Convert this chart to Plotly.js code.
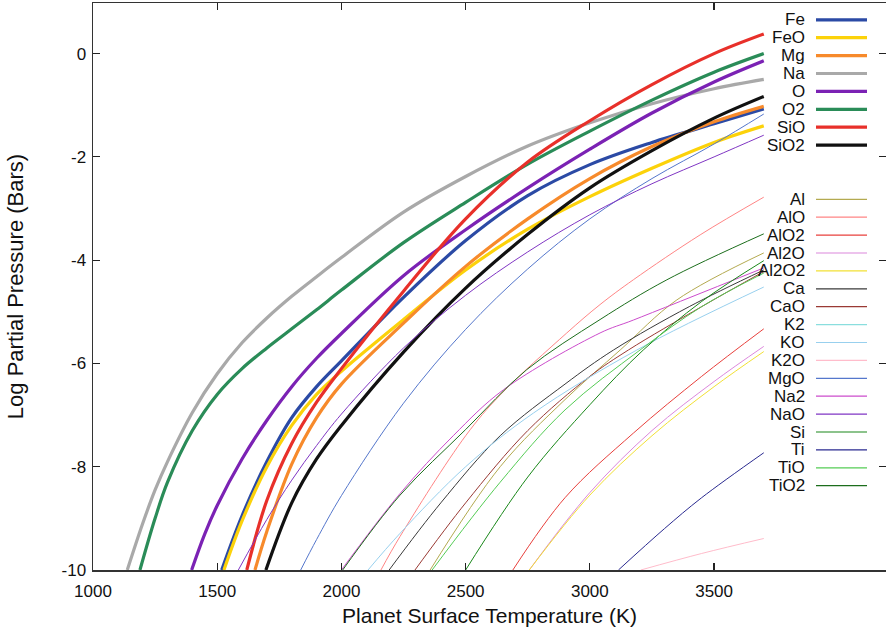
<!DOCTYPE html>
<html>
<head>
<meta charset="utf-8">
<script src="https://cdn.plot.ly/plotly-3.0.1.min.js"></script>
<style>html,body{margin:0;padding:0;background:#fff;}#chart{width:886px;height:630px;}</style>
</head>
<body>
<div id="chart"></div>
<script>
// ---- Data (Temperature in K, log10 partial pressure in bars) ----
const xTicks = [1000, 1500, 2000, 2500, 3000, 3500];
const yTicks = [0, -2, -4, -6, -8, -10];
const yTickText = ['0', '-2', '-4', '-6', '-8', '-10'];

// major species
const T_Fe   = [1518, 1600, 1700, 1800, 1900, 2000, 2250, 2500, 2750, 3000, 3250, 3500, 3700];
const P_Fe   = [-10, -8.95, -7.9, -7.05, -6.45, -5.95, -4.72, -3.62, -2.75, -2.15, -1.72, -1.36, -1.07];
const T_FeO  = [1527, 1600, 1700, 1800, 1900, 2000, 2250, 2500, 2750, 3000, 3250, 3500, 3700];
const P_FeO  = [-10, -9.05, -8.0, -7.2, -6.6, -6.15, -5.15, -4.19, -3.4, -2.77, -2.22, -1.72, -1.40];
const T_Mg   = [1652, 1700, 1800, 1900, 2000, 2250, 2500, 2750, 3000, 3250, 3500, 3700];
const P_Mg   = [-10, -9.25, -7.95, -7.05, -6.4, -5.22, -4.12, -3.2, -2.42, -1.8, -1.32, -1.02];
const T_Na   = [1138, 1200, 1250, 1300, 1400, 1500, 1600, 1700, 1800, 1900, 2000, 2250, 2500, 2750, 3000, 3250, 3500, 3700];
const P_Na   = [-10, -9.1, -8.45, -7.9, -6.95, -6.2, -5.6, -5.12, -4.7, -4.32, -3.95, -3.07, -2.38, -1.79, -1.34, -0.97, -0.68, -0.50];
const T_O    = [1397, 1450, 1500, 1600, 1700, 1800, 1900, 2000, 2250, 2500, 2750, 3000, 3250, 3500, 3700];
const P_O    = [-10, -9.3, -8.75, -7.85, -7.1, -6.45, -5.9, -5.42, -4.3, -3.41, -2.6, -1.85, -1.15, -0.55, -0.14];
const T_O2   = [1189, 1250, 1300, 1400, 1500, 1600, 1700, 1800, 1900, 2000, 2250, 2500, 2750, 3000, 3250, 3500, 3700];
const P_O2   = [-10, -9.0, -8.3, -7.3, -6.6, -6.1, -5.7, -5.33, -4.96, -4.58, -3.66, -2.88, -2.14, -1.50, -0.90, -0.36, 0.0];
const T_SiO  = [1619, 1700, 1800, 1900, 2000, 2250, 2500, 2750, 3000, 3250, 3500, 3700];
const P_SiO  = [-10, -8.65, -7.55, -6.75, -6.1, -4.6, -3.2, -2.1, -1.3, -0.6, 0.0, 0.38];
const T_SiO2 = [1696, 1800, 1900, 2000, 2250, 2500, 2750, 3000, 3250, 3500, 3700];
const P_SiO2 = [-10, -8.7, -7.85, -7.2, -5.78, -4.54, -3.5, -2.6, -1.88, -1.25, -0.83];

// minor species
const T_Al    = [2357, 2639, 2900, 3122, 3350, 3700];
const P_Al    = [-10, -8.0, -6.7, -5.74, -4.77, -3.86];
const T_AlO   = [2159, 2236, 2500, 2639, 2907, 3041, 3175, 3444, 3700];
const P_AlO   = [-10, -9.35, -7.4, -6.61, -5.41, -4.86, -4.38, -3.51, -2.78];
const T_AlO2  = [2690, 2900, 3175, 3450, 3700];
const P_AlO2  = [-10, -8.6, -7.35, -6.25, -5.33];
const T_Al2O  = [2756, 3000, 3250, 3500, 3700];
const P_Al2O  = [-10, -8.5, -7.3, -6.35, -5.67];
const T_Al2O2 = [2756, 3000, 3250, 3500, 3700];
const P_Al2O2 = [-10, -8.55, -7.4, -6.45, -5.77];
const T_Ca    = [2192, 2400, 2639, 2900, 3095, 3400, 3700];
const P_Ca    = [-10, -8.7, -7.4, -6.4, -5.74, -4.9, -4.19];
const T_CaO   = [2296, 2500, 2750, 3000, 3155, 3450, 3700];
const P_CaO   = [-10, -8.7, -7.3, -6.25, -5.74, -4.9, -4.22];
const T_K2    = [];
const P_K2    = [];
const T_KO    = [2107, 2236, 2500, 2773, 3189, 3700];
const P_KO    = [-10, -9.29, -8.0, -6.96, -5.74, -4.52];
const T_K2O   = [3205, 3450, 3700];
const P_K2O   = [-10, -9.68, -9.39];
const T_MgO   = [1836, 1900, 2000, 2250, 2500, 2750, 3000, 3250, 3500, 3700];
const P_MgO   = [-10, -9.41, -8.56, -6.77, -5.34, -4.17, -3.2, -2.42, -1.75, -1.17];
const T_Na2   = [2000, 2236, 2450, 2652, 3041, 3175, 3700];
const P_Na2   = [-10, -8.52, -7.4, -6.51, -5.41, -5.16, -4.15];
const T_NaO   = [1585, 1700, 1800, 1900, 2000, 2250, 2500, 2750, 3000, 3250, 3500, 3700];
const P_NaO   = [-10, -9.02, -8.26, -7.59, -6.98, -5.70, -4.68, -3.84, -3.12, -2.52, -2.0, -1.58];
const T_Si    = [2500, 2750, 3000, 3215, 3450, 3700];
const P_Si    = [-10, -8.2, -6.8, -5.74, -4.8, -4.01];
const T_Ti    = [3115, 3300, 3450, 3700];
const P_Ti    = [-10, -9.2, -8.6, -7.73];
const T_TiO   = [2365, 2639, 2900, 3202, 3450, 3700];
const P_TiO   = [-10, -8.3, -6.9, -5.74, -4.9, -4.25];
const T_TiO2  = [2005, 2236, 2500, 2746, 3041, 3310, 3700];
const P_TiO2  = [-10, -8.55, -7.28, -6.12, -5.15, -4.38, -3.49];

const majorNames = ['Fe', 'FeO', 'Mg', 'Na', 'O', 'O2', 'SiO', 'SiO2'];
const majorColors = ['#2b4aa5', '#fcd20a', '#f78a2b', '#a9a9a9', '#7b22b4', '#2a8c58', '#e8302a', '#111111'];
const majorT = [T_Fe, T_FeO, T_Mg, T_Na, T_O, T_O2, T_SiO, T_SiO2];
const majorP = [P_Fe, P_FeO, P_Mg, P_Na, P_O, P_O2, P_SiO, P_SiO2];

const minorNames = ['Al', 'AlO', 'AlO2', 'Al2O', 'Al2O2', 'Ca', 'CaO', 'K2', 'KO', 'K2O', 'MgO', 'Na2', 'NaO', 'Si', 'Ti', 'TiO', 'TiO2'];
const minorColors = ['#b4aa50', '#ff8585', '#e8403c', '#dc88dc', '#f2e035', '#3a3a3a', '#9a3a34', '#8adede', '#98d0ee', '#ffbccb', '#5577cc', '#cc4ccc', '#8036c4', '#1a881a', '#2a2a90', '#55cc55', '#1c6e1c'];
const minorT = [T_Al, T_AlO, T_AlO2, T_Al2O, T_Al2O2, T_Ca, T_CaO, T_K2, T_KO, T_K2O, T_MgO, T_Na2, T_NaO, T_Si, T_Ti, T_TiO, T_TiO2];
const minorP = [P_Al, P_AlO, P_AlO2, P_Al2O, P_Al2O2, P_Ca, P_CaO, P_K2, P_KO, P_K2O, P_MgO, P_Na2, P_NaO, P_Si, P_Ti, P_TiO, P_TiO2];

// ---- Traces ----
const traces = [];
majorNames.forEach((n, i) => traces.push({
  type: 'scatter', mode: 'lines', name: n, x: majorT[i], y: majorP[i],
  line: {color: majorColors[i], width: 3.2, shape: 'spline', smoothing: 1}, showlegend: false
}));
minorNames.forEach((n, i) => traces.push({
  type: 'scatter', mode: 'lines', name: n, x: minorT[i], y: minorP[i],
  line: {color: minorColors[i], width: 1, shape: 'spline', smoothing: 1}, showlegend: false
}));

// ---- Manual gnuplot-style key (text on left, sample on right) ----
const W = 886, H = 630, ML = 93, MR = 0, MT = 3, MB = 60;
const pw = W - ML - MR, ph = H - MT - MB;
const px = v => (v - ML) / pw;
const py = v => (H - MB - v) / ph;
const annotations = [], shapes = [];
const FONT = 'Liberation Sans, Arial, Helvetica, sans-serif';
function addKey(names, colors, y0, width) {
  names.forEach((n, i) => {
    const yy = y0 + i * 17.9;
    annotations.push({xref: 'paper', yref: 'paper', x: px(806), y: py(yy), xanchor: 'right', yanchor: 'middle',
      text: n, showarrow: false, borderpad: 0, font: {family: FONT, size: 17, color: '#111'}});
    shapes.push({type: 'line', xref: 'paper', yref: 'paper', x0: px(816), x1: px(867), y0: py(yy), y1: py(yy),
      line: {color: colors[i], width: width}});
  });
}
addKey(majorNames, majorColors, 19.8, 3.2);
addKey(minorNames, minorColors, 199.3, 1.2);

const axisFont = {family: FONT, size: 17, color: '#111'};
const layout = {
  width: W, height: H,
  margin: {l: ML, r: MR, t: MT, b: MB},
  paper_bgcolor: '#fff', plot_bgcolor: '#fff',
  font: axisFont,
  showlegend: false,
  xaxis: {
    range: [1000, 4192], tickvals: xTicks, ticktext: xTicks.map(String),
    ticks: 'inside', ticklen: 7, tickwidth: 1.2, tickcolor: '#222',
    showline: true, mirror: 'ticks', linecolor: '#333', linewidth: 1.5,
    showgrid: false, zeroline: false, tickfont: axisFont, ticklabelstandoff: 5,
    title: {text: 'Planet Surface Temperature (K)', font: {family: FONT, size: 21, color: '#111'}, standoff: 8}
  },
  yaxis: {
    range: [-10, 0.98], tickvals: yTicks, ticktext: yTickText,
    ticks: 'inside', ticklen: 7, tickwidth: 1.2, tickcolor: '#222',
    showline: true, mirror: 'ticks', linecolor: '#333', linewidth: 1.5,
    showgrid: false, zeroline: false, tickfont: axisFont, ticklabelstandoff: 2,
    title: {text: 'Log Partial Pressure (Bars)', font: {family: FONT, size: 22, color: '#111'}, standoff: 32}
  },
  annotations: annotations,
  shapes: shapes
};
Plotly.newPlot('chart', traces, layout, {staticPlot: true, displayModeBar: false});
</script>
</body>
</html>
